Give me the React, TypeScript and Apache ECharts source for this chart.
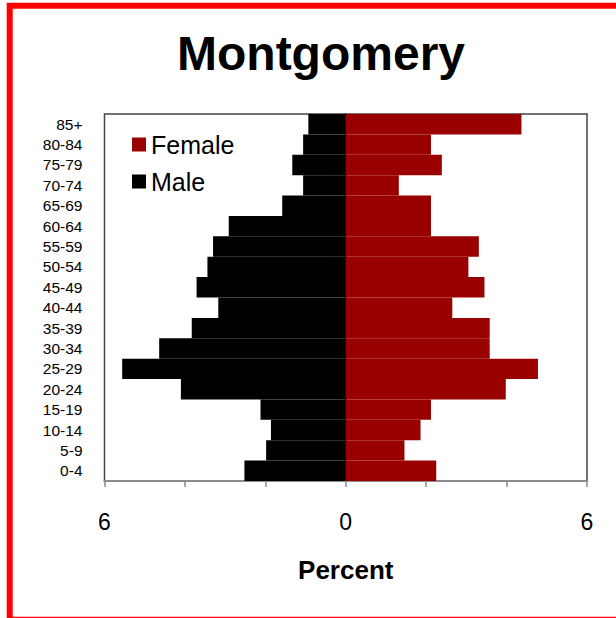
import React, { useEffect, useRef } from "react";
import * as echarts from "echarts";

const categories = ["0-4", "5-9", "10-14", "15-19", "20-24", "25-29", "30-34", "35-39", "40-44", "45-49", "50-54", "55-59", "60-64", "65-69", "70-74", "75-79", "80-84", "85+"];
const maleValues = [2.52, 1.98, 1.86, 2.12, 4.10, 5.56, 4.64, 3.83, 3.17, 3.71, 3.44, 3.30, 2.91, 1.58, 1.06, 1.33, 1.06, 0.93];
const femaleValues = [2.25, 1.46, 1.86, 2.12, 3.98, 4.78, 3.58, 3.58, 2.65, 3.45, 3.05, 3.31, 2.12, 2.12, 1.32, 2.39, 2.12, 4.37];
const titleText = "Montgomery";
const axisTitle = "Percent";

const FONT = "'Liberation Sans', Arial, sans-serif";

export default function App() {
  const ref = useRef<HTMLDivElement>(null);
  useEffect(() => {
    if (!ref.current) return;
    const chart = echarts.init(ref.current, null, { renderer: "svg" });
    chart.setOption({
      animation: false,
      backgroundColor: "#ffffff",
      textStyle: { fontFamily: FONT },
      title: {
        text: titleText,
        left: 172,
        top: 24,
        textStyle: { fontFamily: FONT, fontSize: 48, fontWeight: "bold", color: "#000" },
      },
      graphic: [
        {
          type: "rect",
          shape: { x: 9.7, y: 5.8, width: 700, height: 614 },
          style: { fill: "none", stroke: "#ff0000", lineWidth: 6 },
          silent: true,
          z: 100,
        },
      ],
      legend: {
        data: ["Female", "Male"],
        orient: "vertical",
        left: 132,
        top: 132,
        padding: 0,
        itemWidth: 14,
        itemHeight: 14,
        itemGap: 12,
        icon: "rect",
        textStyle: { fontFamily: FONT, fontSize: 25, color: "#000" },
      },
      grid: {
        left: 104.5,
        right: 29,
        top: 114,
        bottom: 137,
        show: true,
        borderColor: "#444",
        borderWidth: 1.5,
        backgroundColor: "transparent",
      },
      xAxis: {
        type: "value",
        min: -6,
        max: 6,
        interval: 2,
        splitLine: { show: false },
        axisLine: { show: true, lineStyle: { color: "#8c8c8c", width: 2 } },
        axisTick: { show: true, length: 6, lineStyle: { color: "#8c8c8c", width: 1.5 } },
        axisLabel: {
          fontFamily: FONT,
          fontSize: 23,
          color: "#000",
          margin: 29,
          formatter: (v: number) => (Math.abs(v) % 6 === 0 ? String(Math.abs(v)) : ""),
        },
        name: axisTitle,
        nameLocation: "middle",
        nameGap: 76,
        nameTextStyle: { fontFamily: FONT, fontSize: 26, fontWeight: "bold", color: "#000" },
      },
      yAxis: {
        type: "category",
        data: categories,
        axisTick: { show: false },
        axisLine: { show: true, lineStyle: { color: "#000", width: 1.5 } },
        axisLabel: { fontFamily: FONT, fontSize: 15.5, color: "#000", margin: 22, interval: 0, hideOverlap: false },
        splitLine: { show: false },
      },
      series: [
        {
          name: "Male",
          type: "bar",
          data: maleValues.map((v) => -v),
          barCategoryGap: 0,
          barGap: "-100%",
          itemStyle: { color: "#000000" },
        },
        {
          name: "Female",
          type: "bar",
          data: femaleValues,
          barCategoryGap: 0,
          barGap: "-100%",
          itemStyle: { color: "#990000" },
        },
      ],
    });
    return () => chart.dispose();
  }, []);
  return <div ref={ref} style={{ position: "absolute", left: 0, top: 0, width: 616, height: 618 }} />;
}
